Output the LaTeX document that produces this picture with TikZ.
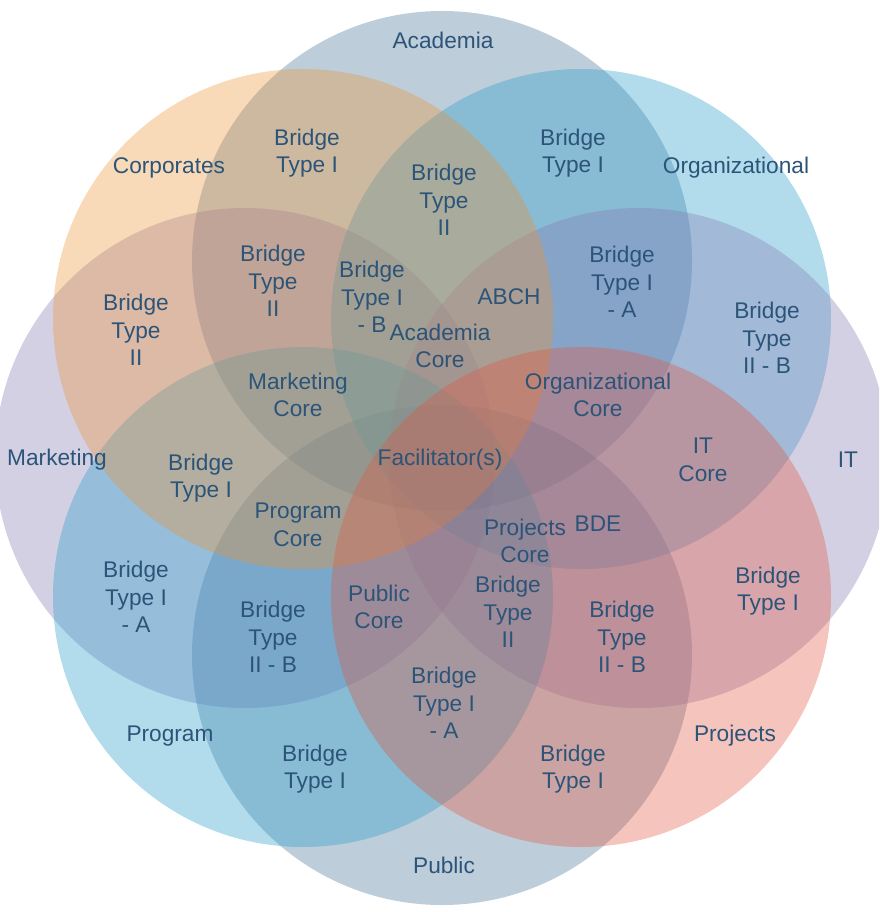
\documentclass[tikz,border=0pt]{standalone}
\usepackage{fontspec}
\setmainfont{Liberation Sans}
\definecolor{acac}{HTML}{457095}
\definecolor{corc}{HTML}{EB9234}
\definecolor{orgc}{HTML}{239BC9}
\definecolor{mktc}{HTML}{8479B2}
\definecolor{prgc}{HTML}{239BC9}
\definecolor{prjc}{HTML}{E2563F}
\definecolor{pubc}{HTML}{457095}
\definecolor{txtc}{HTML}{2C5478}
\begin{document}
\begin{tikzpicture}[x=0.75pt, y=-0.75pt,
  ring/.style={fill opacity=0.35},
  lbl/.style={text=txtc, align=center, font=\fontsize{17}{20.6}\selectfont}]
\useasboundingbox (0,0) rectangle (879,912);
\clip (0,0) rectangle (879,912);
% the eight circles
\fill[ring, acac] (442,261) circle (250);
\fill[ring, pubc] (442,655) circle (250);
\fill[ring, mktc] (245,458) circle (250);
\fill[ring, orgc] (581,319) circle (250);
\fill[ring, mktc] (639,458) circle (250);
\fill[ring, prgc] (303,597) circle (250);
\fill[ring, corc] (303,319) circle (250);
\fill[ring, prjc] (581,597) circle (250);
%
\node[lbl] (aca) at (443,40) {Academia};
\node[lbl] (cor) at (169,168) {Corporates};
\node[lbl] (org) at (736,168) {Organizational};
\node[lbl] (mkt) at (57,460) {Marketing};
\node[lbl] (it) at (848,460) {IT};
\node[lbl] (prg) at (170,736) {Program};
\node[lbl] (prj) at (735,736) {Projects};
\node[lbl] (pub) at (444,865) {Public};
%
\node[lbl] (b1) at (307,153) {Bridge\\Type I};
\node[lbl] (b2) at (444,200) {Bridge\\Type\\II};
\node[lbl] (b3) at (573,153) {Bridge\\Type I};
\node[lbl] (b4) at (273,281) {Bridge\\Type\\II};
\node[lbl] (b5) at (372,297) {Bridge\\Type I\\- B};
\node[lbl] (abch) at (509,297) {ABCH};
\node[lbl] (acore) at (440,346) {Academia\\Core};
\node[lbl] (b6) at (622,282) {Bridge\\Type I\\- A};
\node[lbl] (b7) at (767,338) {Bridge\\Type\\II - B};
\node[lbl] (b8) at (136,330) {Bridge\\Type\\II};
\node[lbl] (mcore) at (298,395) {Marketing\\Core};
\node[lbl] (ocore) at (598,395) {Organizational\\Core};
%
\node[lbl] (fac) at (440,460) {Facilitator(s)};
\node[lbl] (b9) at (201,478) {Bridge\\Type I};
\node[lbl] (icore) at (703,460) {IT\\Core};
\node[lbl] (pcore) at (298,525) {Program\\Core};
\node[lbl] (jcore) at (525,541) {Projects\\Core};
\node[lbl] (bde) at (598,524) {BDE};
%
\node[lbl] (b10) at (136,597) {Bridge\\Type I\\- A};
\node[lbl] (b11) at (273,637) {Bridge\\Type\\II - B};
\node[lbl] (ucore) at (379,607) {Public\\Core};
\node[lbl] (b12) at (508,612) {Bridge\\Type\\II};
\node[lbl] (b13) at (622,637) {Bridge\\Type\\II - B};
\node[lbl] (b14) at (768,591) {Bridge\\Type I};
\node[lbl] (b15) at (444,703) {Bridge\\Type I\\- A};
\node[lbl] (b16) at (315,769) {Bridge\\Type I};
\node[lbl] (b17) at (573,769) {Bridge\\Type I};
\end{tikzpicture}
\end{document}
